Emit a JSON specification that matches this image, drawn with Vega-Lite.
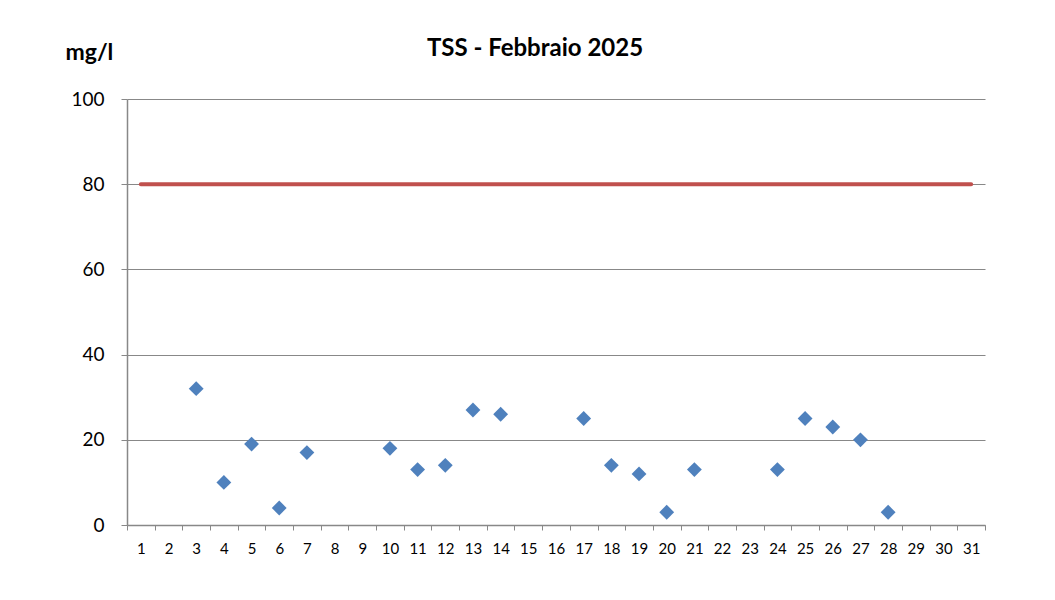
{
  "$schema": "https://vega.github.io/schema/vega-lite/v6.json",
  "width": 858,
  "height": 426,
  "autosize": {"type": "none"},
  "padding": {"left": 127, "top": 99, "right": 70, "bottom": 75},
  "background": "white",
  "title": {
    "text": "TSS - Febbraio 2025",
    "fontSize": 24,
    "fontWeight": "bold",
    "font": "Lato",
    "color": "#000000",
    "anchor": "middle",
    "dx": -21,
    "offset": -20
  },
  "data": {
    "values": [
      {"day": 1, "tss": null, "limit": 80},
      {"day": 2, "tss": null, "limit": 80},
      {"day": 3, "tss": 32, "limit": 80},
      {"day": 4, "tss": 10, "limit": 80},
      {"day": 5, "tss": 19, "limit": 80},
      {"day": 6, "tss": 4, "limit": 80},
      {"day": 7, "tss": 17, "limit": 80},
      {"day": 8, "tss": null, "limit": 80},
      {"day": 9, "tss": null, "limit": 80},
      {"day": 10, "tss": 18, "limit": 80},
      {"day": 11, "tss": 13, "limit": 80},
      {"day": 12, "tss": 14, "limit": 80},
      {"day": 13, "tss": 27, "limit": 80},
      {"day": 14, "tss": 26, "limit": 80},
      {"day": 15, "tss": null, "limit": 80},
      {"day": 16, "tss": null, "limit": 80},
      {"day": 17, "tss": 25, "limit": 80},
      {"day": 18, "tss": 14, "limit": 80},
      {"day": 19, "tss": 12, "limit": 80},
      {"day": 20, "tss": 3, "limit": 80},
      {"day": 21, "tss": 13, "limit": 80},
      {"day": 22, "tss": null, "limit": 80},
      {"day": 23, "tss": null, "limit": 80},
      {"day": 24, "tss": 13, "limit": 80},
      {"day": 25, "tss": 25, "limit": 80},
      {"day": 26, "tss": 23, "limit": 80},
      {"day": 27, "tss": 20, "limit": 80},
      {"day": 28, "tss": 3, "limit": 80},
      {"day": 29, "tss": null, "limit": 80},
      {"day": 30, "tss": null, "limit": 80},
      {"day": 31, "tss": null, "limit": 80}
    ]
  },
  "encoding": {
    "x": {
      "field": "day",
      "type": "ordinal",
      "scale": {"type": "band", "paddingInner": 0, "paddingOuter": 0},
      "axis": {
        "title": null,
        "labelAngle": 0,
        "labelFont": "Lato",
        "labelFontSize": 15,
        "labelColor": "#000000",
        "labelPadding": 11,
        "tickBand": "extent",
        "tickSize": 5,
        "tickColor": "#888888",
        "domainColor": "#888888",
        "domainWidth": 1.5,
        "grid": false
      }
    }
  },
  "layer": [
    {
      "mark": {"type": "line", "color": "#C0504D", "strokeWidth": 4, "strokeCap": "round"},
      "encoding": {
        "y": {
          "field": "limit",
          "type": "quantitative",
          "scale": {"domain": [0, 100], "nice": false},
          "axis": {
            "title": "mg/l",
            "titleAngle": 0,
            "titleFont": "Lato",
            "titleFontSize": 23,
            "titleFontWeight": "bold",
            "titleColor": "#000000",
            "titleX": -62,
            "titleY": -47,
            "titleAlign": "left",
            "titleBaseline": "middle",
            "values": [0, 20, 40, 60, 80, 100],
            "labelFont": "Lato",
            "labelFontSize": 19,
            "labelColor": "#000000",
            "labelPadding": 17,
            "tickSize": 6,
            "tickColor": "#888888",
            "domainColor": "#888888",
            "domainWidth": 1.5,
            "grid": true,
            "gridColor": "#888888",
            "gridWidth": 1.2
          }
        }
      }
    },
    {
      "transform": [{"filter": "datum.tss != null"}],
      "mark": {"type": "point", "shape": "diamond", "filled": true, "color": "#4F81BD", "opacity": 1, "size": 220},
      "encoding": {
        "y": {"field": "tss", "type": "quantitative"}
      }
    }
  ],
  "config": {
    "view": {"stroke": null}
  }
}
